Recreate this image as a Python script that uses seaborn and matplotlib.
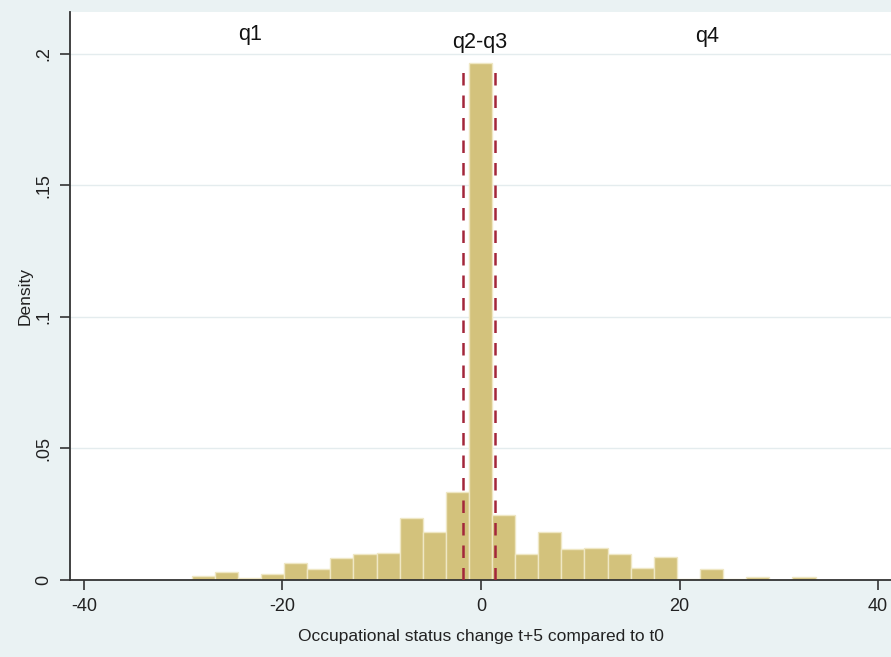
import numpy as np
import pandas as pd
import matplotlib
matplotlib.use("Agg")
import matplotlib.pyplot as plt
import seaborn as sns

# -- Data --------------------------------------------------------------------
bin_start = -29.15
bin_width = 2.328
density = [0.0017, 0.0032, 0.0008, 0.0023, 0.0063, 0.0043, 0.0084, 0.0098,
           0.0101, 0.0235, 0.0181, 0.0335, 0.1965, 0.0247, 0.0098, 0.0181,
           0.0118, 0.0123, 0.0098, 0.0047, 0.0089, 0.0004, 0.0042, 0.0004,
           0.0012, 0.0, 0.0012]
quartile_cuts = [-1.85, 1.4]
group_labels = ["q1", "q2-q3", "q4"]
group_x = [-23.3, -0.1, 22.8]
group_y = [0.2072, 0.2042, 0.2066]
x_ticks = [-40, -20, 0, 20, 40]
y_ticks = [0, 0.05, 0.1, 0.15, 0.2]
y_ticklabels = ["0", ".05", ".1", ".15", ".2"]

edges = bin_start + bin_width * np.arange(len(density) + 1)
df = pd.DataFrame({"center": (edges[:-1] + edges[1:]) / 2, "density": density})

sns.set_theme(style="white")
plt.rcParams["font.family"] = ["Liberation Sans", "DejaVu Sans"]
plt.rcParams["axes.unicode_minus"] = False

BG = "#eaf2f3"
fig = plt.figure(figsize=(8.91, 6.57), dpi=100, facecolor=BG)
ax = fig.add_axes([70 / 891, 1 - 580 / 657, 1 - 70 / 891, (580 - 12) / 657])
ax.set_facecolor("white")

sns.histplot(data=df, x="center", weights="density", bins=edges.tolist(),
             stat="count", color="#d3c27c", alpha=1, edgecolor="#efe7c4",
             linewidth=1.0, ax=ax, zorder=2)

ax.vlines(quartile_cuts, 0, max(density), colors="#a3263a",
          linestyles=(0, (5, 4)), linewidth=1.8, zorder=3)

for lab, gx, gy in zip(group_labels, group_x, group_y):
    ax.text(gx, gy, lab, ha="center", va="center", fontsize=15.5, color="#111111")

ax.set_xlim(-41.4, 41.3)
ax.set_ylim(0, 0.2159)
ax.set_xticks(x_ticks)
ax.set_yticks(y_ticks)
ax.set_yticklabels(y_ticklabels, rotation=90, va="center")
ax.tick_params(axis="both", direction="out", length=7, width=1.2,
               bottom=True, left=True,
               color="#333333", labelsize=13, labelcolor="#222222")
ax.tick_params(axis="x", pad=6)
ax.tick_params(axis="y", pad=6)
ax.yaxis.grid(True, color="#e4ecee", linewidth=1.0, zorder=0)
ax.set_axisbelow(True)

for s in ["top", "right"]:
    ax.spines[s].set_visible(False)
for s in ["left", "bottom"]:
    ax.spines[s].set_color("#333333")
    ax.spines[s].set_linewidth(1.3)

ax.set_xlabel("Occupational status change t+5 compared to t0", fontsize=12.5,
              color="#222222", labelpad=10)
ax.set_ylabel("Density", fontsize=12.5, color="#222222", labelpad=2)

fig.savefig("out.png", dpi=100, facecolor=BG)
